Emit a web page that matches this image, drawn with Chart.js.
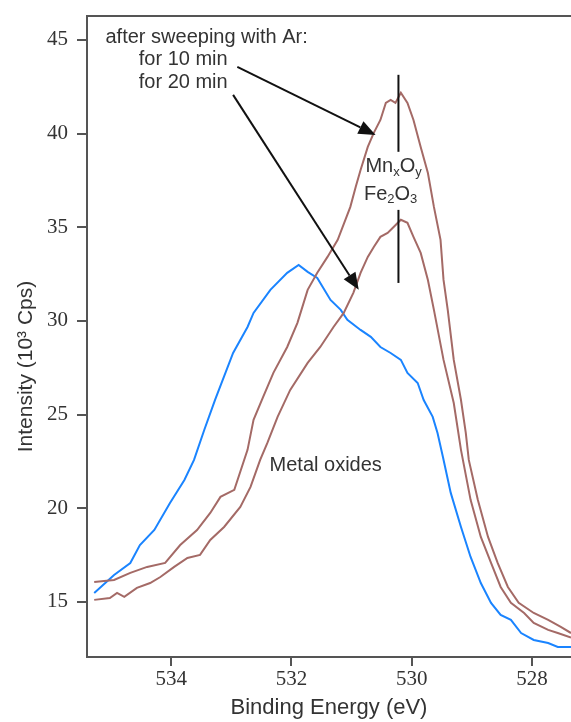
<!DOCTYPE html>
<html lang="en">
<head>
<meta charset="UTF-8">
<title>O 1s spectra</title>
<script src="https://cdn.jsdelivr.net/npm/chart.js"></script>
<style>
  html, body { margin: 0; padding: 0; background: #fff; }
</style>
</head>
<body>
<canvas id="xps" width="571" height="722"></canvas>
<script>
// binding energy (eV) and intensity (10^3 cps)
const eFresh = [535.28, 534.95, 534.68, 534.52, 534.28, 534.02, 533.78, 533.62, 533.45, 533.27, 532.97, 532.73, 532.63, 532.35, 532.07, 531.88, 531.73, 531.57, 531.35, 531.18, 531.07, 530.85, 530.68, 530.52, 530.35, 530.18, 530.07, 529.90, 529.80, 529.65, 529.57, 529.48, 529.35, 529.18, 529.02, 528.85, 528.68, 528.52, 528.35, 528.18, 527.97, 527.73, 527.57, 527.35];
const iFresh = [15.48, 16.44, 17.08, 18.04, 18.84, 20.28, 21.51, 22.58, 24.18, 25.79, 28.29, 29.68, 30.43, 31.66, 32.57, 32.99, 32.62, 32.30, 31.12, 30.59, 30.06, 29.52, 29.15, 28.61, 28.29, 27.92, 27.23, 26.69, 25.78, 24.88, 24.02, 22.74, 20.82, 19.00, 17.40, 16.01, 14.95, 14.31, 14.04, 13.34, 12.97, 12.81, 12.60, 12.60];

const e10 = [535.28, 534.95, 534.68, 534.40, 534.10, 533.85, 533.57, 533.35, 533.18, 532.95, 532.73, 532.63, 532.47, 532.30, 532.07, 531.90, 531.73, 531.57, 531.40, 531.23, 531.02, 530.93, 530.85, 530.73, 530.63, 530.52, 530.43, 530.35, 530.27, 530.18, 530.07, 529.97, 529.85, 529.73, 529.63, 529.52, 529.47, 529.40, 529.30, 529.18, 529.10, 529.05, 528.90, 528.73, 528.57, 528.40, 528.22, 527.97, 527.73, 527.52, 527.35];
const i10 = [16.07, 16.17, 16.55, 16.87, 17.08, 18.04, 18.84, 19.75, 20.61, 20.98, 23.12, 24.72, 25.95, 27.23, 28.61, 29.90, 31.66, 32.57, 33.42, 34.33, 36.09, 37.16, 38.06, 39.29, 40.04, 40.73, 41.64, 41.80, 41.64, 42.18, 41.64, 40.73, 39.29, 37.90, 36.09, 34.33, 32.19, 30.59, 27.92, 25.78, 24.02, 22.58, 20.45, 18.47, 17.08, 15.80, 14.95, 14.41, 14.04, 13.67, 13.34];

const e20 = [535.28, 535.02, 534.90, 534.78, 534.57, 534.35, 534.18, 533.95, 533.73, 533.52, 533.35, 533.12, 532.85, 532.68, 532.52, 532.40, 532.23, 532.02, 531.73, 531.52, 531.30, 531.13, 530.97, 530.85, 530.73, 530.63, 530.52, 530.40, 530.30, 530.18, 530.07, 529.97, 529.85, 529.73, 529.63, 529.47, 529.30, 529.18, 529.02, 528.85, 528.68, 528.52, 528.35, 528.13, 527.97, 527.73, 527.57, 527.35];
const i20 = [15.11, 15.21, 15.48, 15.27, 15.75, 16.01, 16.33, 16.87, 17.35, 17.51, 18.31, 19.00, 20.07, 21.14, 22.58, 23.49, 24.88, 26.32, 27.76, 28.61, 29.68, 30.43, 31.50, 32.57, 33.42, 33.95, 34.49, 34.70, 35.02, 35.40, 35.24, 34.49, 33.63, 32.19, 30.59, 27.92, 25.62, 23.12, 20.45, 18.47, 17.08, 15.80, 14.95, 14.41, 13.88, 13.51, 13.34, 13.10];

const xTicks = [528, 530, 532, 534];
const yTicks = [15, 20, 25, 30, 35, 40, 45];

// annotation anchors, in data units (energy, intensity)
const labels = [
  { parts: [['after sweeping with Ar:', 0]], e: 533.41, v: 45.11 },
  { parts: [['for 10 min', 0]], e: 533.80, v: 43.94 },
  { parts: [['for 20 min', 0]], e: 533.80, v: 42.71 },
  { parts: [['Mn', 0], ['x', 1], ['O', 0], ['y', 1]], e: 530.30, v: 38.22 },
  { parts: [['Fe', 0], ['2', 1], ['O', 0], ['3', 1]], e: 530.35, v: 36.73 },
  { parts: [['Metal oxides', 0]], e: 531.43, v: 22.31 }
];
const arrows = [
  { from: [532.90, 43.56], to: [530.60, 39.93] },
  { from: [532.97, 42.07], to: [530.88, 31.66] }
];
const peakMarks = [
  { e: 530.22, v0: 39.03, v1: 43.14 },
  { e: 530.22, v0: 32.03, v1: 35.93 }
];

const pts = (xs, ys) => xs.map((x, i) => ({ x: x, y: ys[i] }));
const frame = '#555';
const textCol = '#333';

function drawArrow(ctx, x0, y0, x1, y1) {
  const a = Math.atan2(y1 - y0, x1 - x0), len = 17, half = 7;
  const bx = x1 - len * Math.cos(a), by = y1 - len * Math.sin(a);
  ctx.beginPath(); ctx.moveTo(x0, y0); ctx.lineTo(bx, by); ctx.stroke();
  ctx.beginPath();
  ctx.moveTo(x1, y1);
  ctx.lineTo(bx + half * Math.sin(a), by - half * Math.cos(a));
  ctx.lineTo(bx - half * Math.sin(a), by + half * Math.cos(a));
  ctx.closePath(); ctx.fill();
}

function drawParts(ctx, parts, cx, cy) {
  const big = '20px "Liberation Sans", Arial, sans-serif';
  const small = '13px "Liberation Sans", Arial, sans-serif';
  let w = 0;
  parts.forEach(p => { ctx.font = p[1] ? small : big; w += ctx.measureText(p[0]).width; });
  let x = cx - w / 2;
  ctx.textAlign = 'left';
  ctx.textBaseline = 'middle';
  parts.forEach(p => {
    ctx.font = p[1] ? small : big;
    ctx.fillText(p[0], x, p[1] ? cy + 5 : cy);
    x += ctx.measureText(p[0]).width;
  });
}

const decor = {
  id: 'decor',
  afterDraw(chart) {
    const { ctx, chartArea: a, scales: { x, y } } = chart;
    ctx.save();
    // top frame line
    ctx.strokeStyle = frame;
    ctx.lineWidth = 2;
    ctx.beginPath(); ctx.moveTo(a.left - 1, a.top); ctx.lineTo(a.right, a.top); ctx.stroke();

    // y title, sits a little below centre in the original
    ctx.fillStyle = textCol;
    ctx.font = '21px "Liberation Sans", Arial, sans-serif';
    ctx.translate(a.left - 61, (a.top + a.bottom) / 2 + 30);
    ctx.rotate(-Math.PI / 2);
    ctx.textAlign = 'center';
    ctx.textBaseline = 'middle';
    ctx.fillText('Intensity (10\u00b3 Cps)', 0, 0);
    ctx.setTransform(1, 0, 0, 1, 0, 0);

    ctx.strokeStyle = '#111';
    ctx.fillStyle = '#111';
    ctx.lineWidth = 2;
    arrows.forEach(r => drawArrow(ctx,
      x.getPixelForValue(r.from[0]), y.getPixelForValue(r.from[1]),
      x.getPixelForValue(r.to[0]), y.getPixelForValue(r.to[1])));
    peakMarks.forEach(m => {
      const px = x.getPixelForValue(m.e);
      ctx.beginPath();
      ctx.moveTo(px, y.getPixelForValue(m.v0));
      ctx.lineTo(px, y.getPixelForValue(m.v1));
      ctx.stroke();
    });

    ctx.fillStyle = textCol;
    labels.forEach(l => drawParts(ctx, l.parts, x.getPixelForValue(l.e), y.getPixelForValue(l.v)));
    ctx.restore();
  }
};

new Chart(document.getElementById('xps'), {
  type: 'line',
  data: {
    datasets: [
      { label: '10 min', data: pts(e10, i10), borderColor: '#a46a66' },
      { label: '20 min', data: pts(e20, i20), borderColor: '#a46a66' },
      { label: 'Metal oxides', data: pts(eFresh, iFresh), borderColor: '#1a84ff' }
    ]
  },
  options: {
    responsive: false,
    animation: false,
    layout: { padding: { top: 16, right: 0, left: 0, bottom: 0 } },
    elements: {
      line: { borderWidth: 2, tension: 0 },
      point: { radius: 0 }
    },
    plugins: { legend: { display: false }, tooltip: { enabled: false } },
    scales: {
      x: {
        type: 'linear',
        reverse: true,
        min: 527.35,
        max: 535.4,
        afterBuildTicks: s => { s.ticks = xTicks.map(v => ({ value: v })); },
        afterFit: s => { s.height = 65; s.paddingLeft = 0; s.paddingRight = 0; },
        grid: { drawOnChartArea: false, drawTicks: true, tickLength: 9, color: frame, lineWidth: 2 },
        border: { display: true, color: frame, width: 2 },
        ticks: { color: textCol, padding: 1, font: { family: 'Liberation Serif', size: 21 } },
        title: {
          display: true,
          text: 'Binding Energy (eV)',
          color: textCol,
          padding: { top: 0, bottom: 1 },
          font: { family: 'Liberation Sans', size: 22 }
        }
      },
      y: {
        min: 12.06,
        max: 46.28,
        afterBuildTicks: s => { s.ticks = yTicks.map(v => ({ value: v })); },
        afterFit: s => { s.width = 87; s.paddingTop = 0; s.paddingBottom = 0; },
        grid: { drawOnChartArea: false, drawTicks: true, tickLength: 10, color: frame, lineWidth: 2 },
        border: { display: true, color: frame, width: 2 },
        ticks: { color: textCol, padding: 9, font: { family: 'Liberation Serif', size: 21 } }
      }
    }
  },
  plugins: [decor]
});
</script>
</body>
</html>
